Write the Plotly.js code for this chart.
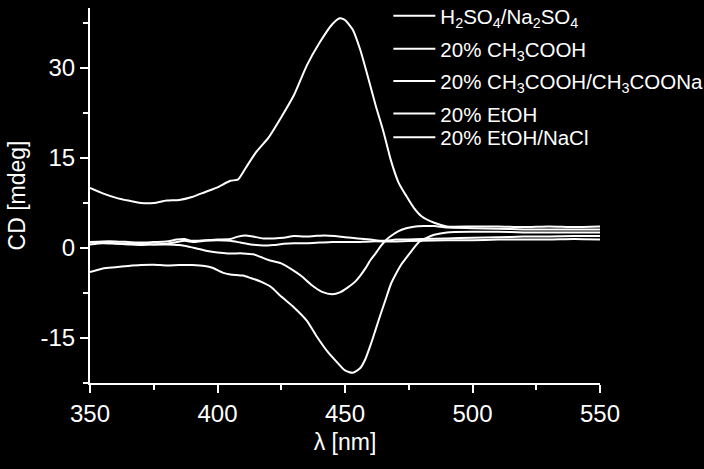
<!DOCTYPE html>
<html>
<head>
<meta charset="utf-8">
<script src="https://cdn.plot.ly/plotly-3.0.1.min.js"></script>
<style>
html,body{margin:0;padding:0;background:#000;}
#chart{width:704px;height:469px;}
</style>
</head>
<body>
<div id="chart"></div>
<script>
// Series names (legend labels)
const seriesNames = [
  'H<sub>2</sub>SO<sub>4</sub>/Na<sub>2</sub>SO<sub>4</sub>',
  '20% CH<sub>3</sub>COOH',
  '20% CH<sub>3</sub>COOH/CH<sub>3</sub>COONa',
  '20% EtOH',
  '20% EtOH/NaCl'
];

// Tick labels
const xTickVals = [350,400,450,500,550];
const xTickText = ['350','400','450','500','550'];
const yTickVals = [-15,0,15,30];
const yTickText = ['-15','0','15','30'];

// H2SO4/Na2SO4
const xA = [350,355,360,365,370,375,380,385,390,395,400,405,408,411,415,420,425,430,435,440,445,448,450,453,456,459,462,465,468,471,474,477,480,485,490,500,510,520,530,540,550];
const yA = [10.0,9.1,8.4,7.9,7.5,7.5,7.9,8.0,8.5,9.3,10.1,11.2,11.4,13.3,15.9,18.4,21.8,25.5,30.4,34.2,37.3,38.3,38.0,36.4,33.0,28.5,23.8,19.5,14.6,10.9,8.7,6.7,5.3,4.2,3.6,3.6,3.6,3.5,3.6,3.5,3.6];

// 20% CH3COOH
const xB = [350,355,360,365,370,375,380,385,390,395,398,402,405,410,413,417,421,425,430,435,439,443,447,450,453,456,458,460,462,464,466,468,470,472,475,479,482,485,490,500,510,520,530,540,550];
const yB = [-4.0,-3.4,-3.2,-3.0,-2.85,-2.8,-2.9,-2.85,-2.85,-3.0,-3.3,-4.1,-4.4,-4.6,-5.0,-5.6,-6.5,-8.1,-9.9,-12.1,-14.8,-17.2,-19.1,-20.4,-20.8,-20.0,-18.5,-16.2,-13.6,-11.0,-8.5,-6.0,-4.3,-2.8,-1.1,1.0,1.7,2.2,2.6,2.7,2.7,2.6,2.6,2.6,2.6];

// 20% CH3COOH/CH3COONa
const xC = [350,355,360,365,370,375,380,385,388,391,396,400,404,410,414,417,420,425,430,433,437,441,445,448,451,454,456,458,460,462,464,466,468,471,474,477,481,485,490,500,510,520,530,540,550];
const yC = [0.9,0.9,0.8,0.7,0.7,0.6,0.6,0.5,0.3,0.0,-0.5,-0.75,-0.9,-0.9,-1.05,-1.5,-2.0,-2.55,-3.8,-4.7,-6.2,-7.3,-7.7,-7.4,-6.6,-5.6,-4.6,-3.4,-2.0,-0.9,0.3,1.3,2.0,2.8,3.3,3.55,3.65,3.65,3.4,3.3,3.2,3.1,3.1,3.1,3.1];

// 20% EtOH
const xD = [350,355,360,365,370,375,380,384,387,390,395,400,405,408,411,414,418,422,426,430,434,438,442,446,450,455,460,465,470,480,490,500,510,520,530,540,550];
const yD = [1.0,1.1,1.1,1.0,0.9,1.0,1.1,1.4,1.5,1.2,1.3,1.4,1.5,1.9,2.1,1.9,1.6,1.6,1.7,2.0,1.9,2.0,2.1,2.0,1.8,1.6,1.4,1.2,1.4,1.5,1.6,1.7,1.8,1.9,1.9,2.0,2.0];

// 20% EtOH/NaCl
const xE = [350,355,360,365,370,375,380,384,387,391,395,400,405,409,413,418,422,426,430,435,440,445,450,455,460,470,480,490,500,510,520,530,540,550];
const yE = [0.6,0.8,0.7,0.6,0.5,0.6,0.7,1.0,1.2,1.0,1.2,1.3,1.2,0.9,0.6,0.4,0.5,0.7,0.8,0.8,0.9,1.0,1.0,1.0,1.1,1.1,1.2,1.3,1.3,1.4,1.4,1.4,1.5,1.4];

const xs = [xA,xB,xC,xD,xE];
const ys = [yA,yB,yC,yD,yE];
const legendIds = ['legend','legend2','legend3','legend4','legend5'];
const legendY = [0.979,0.891,0.805,0.718,0.655];

const FONT = 'Liberation Sans, Arial, sans-serif';

const traces = xs.map((x,i)=>({
  x: x, y: ys[i], name: seriesNames[i], type:'scatter', mode:'lines',
  line:{color:'#ffffff', width:2, shape:'spline', smoothing:0.6},
  legend: legendIds[i], showlegend:true
}));

const layout = {
  width:704, height:469,
  paper_bgcolor:'#000000', plot_bgcolor:'#000000',
  margin:{l:90, r:104, t:8, b:86, autoexpand:false},
  font:{family:FONT, color:'#ffffff', size:24},
  xaxis:{
    range:[350,550], tickmode:'array', tickvals:xTickVals, ticktext:xTickText,
    showline:true, linecolor:'#ffffff', linewidth:2,
    ticks:'outside', ticklen:8, tickwidth:2, tickcolor:'#ffffff',
    minor:{tickmode:'linear', tick0:350, dtick:25, ticks:'outside', ticklen:5, tickwidth:2, tickcolor:'#ffffff', showgrid:false},
    showgrid:false, zeroline:false,
    tickfont:{family:FONT, size:24, color:'#ffffff'},
    title:{text:'λ [nm]', font:{family:FONT, size:23, color:'#ffffff'}, standoff:8}
  },
  yaxis:{
    range:[-22.5,40], tickmode:'array', tickvals:yTickVals, ticktext:yTickText,
    showline:true, linecolor:'#ffffff', linewidth:2,
    ticks:'outside', ticklen:8, tickwidth:2, tickcolor:'#ffffff',
    minor:{tickmode:'linear', tick0:0, dtick:7.5, ticks:'outside', ticklen:5, tickwidth:2, tickcolor:'#ffffff', showgrid:false},
    showgrid:false, zeroline:false,
    tickfont:{family:FONT, size:24, color:'#ffffff'},
    title:{text:'CD [mdeg]', font:{family:FONT, size:23, color:'#ffffff'}, standoff:8}
  },
  showlegend:true
};

legendIds.forEach((id,i)=>{
  layout[id] = {
    x:0.585, xanchor:'left', y:legendY[i], yanchor:'middle',
    bgcolor:'rgba(0,0,0,0)', borderwidth:0,
    font:{family:FONT, size:20.5, color:'#ffffff'},
    itemwidth:42
  };
});

Plotly.newPlot('chart', traces, layout, {staticPlot:true, displayModeBar:false});
</script>
</body>
</html>
